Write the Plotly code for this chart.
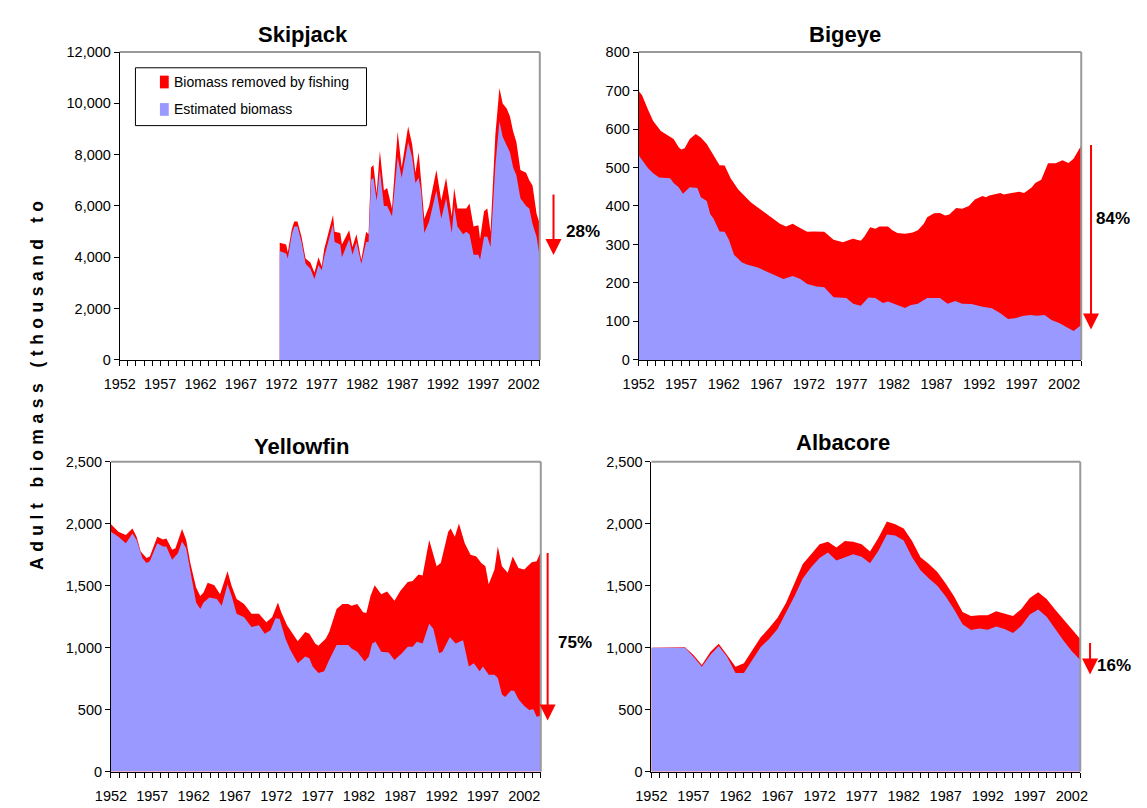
import plotly.graph_objects as go

# ---------------- DATA ----------------
# Skipjack (quarterly-ish readings), thousand tonnes
skj_years = [1971.8, 1972.6, 1972.8, 1973.3, 1973.6, 1974.0, 1974.5, 1975.0, 1975.6, 1976.1,
             1976.6, 1977.0, 1977.3, 1977.8, 1978.4, 1978.6, 1979.3, 1979.5, 1980.4, 1980.8,
             1981.3, 1981.9, 1982.5, 1982.8, 1983.1, 1983.4, 1983.8, 1984.2, 1984.7, 1985.1,
             1985.7, 1986.4, 1986.9, 1987.7, 1988.2, 1988.6, 1989.0, 1989.3, 1989.7, 1990.3,
             1991.2, 1991.8, 1992.4, 1993.1, 1993.4, 1993.8, 1994.5, 1994.9, 1995.3, 1995.8,
             1996.4, 1996.6, 1997.1, 1997.5, 1997.9, 1998.5, 1999.0, 1999.4, 1999.9, 2000.3,
             2000.7, 2001.1, 2001.6, 2002.3, 2002.7, 2003.1, 2003.6, 2004.0]
skj_unfished = [4570, 4500, 4200, 5100, 5400, 5400, 4800, 3950, 3800, 3400,
                4000, 3650, 4300, 4900, 5650, 5000, 4950, 4500, 5050, 4400,
                4900, 3900, 5000, 4900, 7500, 7600, 6500, 8150, 6600, 6700,
                5900, 8900, 7500, 9100, 8400, 7300, 8100, 7000, 5500, 6000,
                7400, 6200, 7100, 5600, 6700, 5900, 5900, 5900, 6100, 5200,
                5250, 4700, 5800, 5900, 5000, 8800, 10600, 10000, 9800, 9500,
                8900, 8500, 7400, 7300, 7000, 6800, 5700, 5300]
skj_estimated = [4250, 4150, 3950, 4900, 5200, 5200, 4600, 3750, 3550, 3150,
                 3700, 3500, 4000, 4600, 5300, 4600, 4500, 4000, 4700, 4100,
                 4600, 3750, 4600, 4600, 7000, 7100, 6200, 7400, 6000, 6000,
                 5600, 7900, 7100, 8500, 7900, 6900, 7100, 6600, 4950, 5400,
                 6600, 5500, 6300, 4950, 6000, 5200, 4900, 5000, 4900, 4100,
                 4100, 3900, 4800, 4800, 4400, 7600, 9300, 8700, 8400, 8100,
                 7500, 7200, 6300, 6000, 5900, 5300, 4800, 4000]

# Bigeye
bet_years_unfished = [1952.0, 1952.4, 1953.1, 1953.7, 1954.6, 1955.2, 1956.1, 1956.7, 1957.0, 1957.4,
                      1958.0, 1958.7, 1959.3, 1960.0, 1960.8, 1961.5, 1962.1, 1962.8, 1963.7, 1964.3,
                      1965.2, 1966.0, 1966.9, 1967.8, 1968.6, 1969.3, 1970.1, 1970.8, 1971.8, 1972.5,
                      1973.8, 1974.9, 1976.0, 1976.8, 1977.2, 1978.1, 1978.5, 1979.2, 1979.8, 1980.3,
                      1981.3, 1981.8, 1982.4, 1983.3, 1984.2, 1984.8, 1985.5, 1985.9, 1986.7, 1987.4,
                      1988.0, 1988.5, 1989.3, 1990.0, 1990.8, 1991.5, 1992.4, 1992.8, 1993.2, 1994.5,
                      1994.9, 1995.8, 1996.7, 1997.3, 1998.2, 1998.6, 1999.3, 2000.1, 2001.0, 2001.8,
                      2002.5, 2003.1, 2004.0]
bet_unfished = [699, 688, 650, 621, 595, 587, 574, 553, 547, 550,
                574, 587, 578, 561, 532, 506, 505, 472, 443, 430,
                409, 396, 381, 367, 354, 347, 354, 345, 333, 334,
                333, 312, 306, 312, 315, 310, 320, 345, 341, 347,
                347, 337, 330, 328, 331, 337, 354, 371, 381, 382,
                375, 378, 395, 393, 400, 417, 426, 423, 427, 434,
                430, 434, 437, 434, 449, 460, 468, 511, 511, 519,
                512, 523, 557]
bet_years_estimated = [1952.0, 1952.4, 1953.1, 1953.7, 1954.4, 1955.7, 1956.1, 1956.7, 1957.2, 1958.0,
                       1958.9, 1959.3, 1960.0, 1960.4, 1960.8, 1961.5, 1962.1, 1962.6, 1963.2, 1964.1,
                       1964.7, 1966.0, 1967.3, 1968.1, 1969.0, 1970.1, 1971.0, 1971.8, 1972.9, 1973.8,
                       1974.9, 1976.4, 1977.2, 1978.1, 1979.0, 1979.8, 1980.7, 1981.3, 1982.0, 1983.3,
                       1983.9, 1984.8, 1985.9, 1987.4, 1988.3, 1989.2, 1990.0, 1991.1, 1992.4, 1993.5,
                       1994.5, 1995.4, 1996.2, 1997.1, 1998.0, 1998.8, 1999.7, 2000.5, 2001.4, 2002.2,
                       2003.1, 2004.0]
bet_estimated = [532, 519, 498, 485, 474, 472, 460, 449, 432, 449,
                 447, 423, 413, 379, 367, 334, 333, 312, 273, 254,
                 248, 240, 227, 218, 210, 218, 210, 197, 191, 189,
                 163, 161, 146, 141, 162, 161, 148, 152, 146, 135,
                 142, 146, 161, 161, 146, 153, 146, 145, 138, 134,
                 121, 106, 108, 114, 117, 115, 117, 104, 96, 87,
                 75, 91]

# Yellowfin
yft_years_unfished = [1952.0, 1952.9, 1953.8, 1954.6, 1955.1, 1955.6, 1956.3, 1956.7, 1957.6, 1958.3,
                      1958.7, 1959.4, 1959.8, 1960.6, 1961.1, 1961.6, 1962.3, 1962.8, 1963.2, 1963.7,
                      1964.5, 1965.2, 1966.1, 1966.6, 1967.2, 1968.1, 1969.0, 1969.9, 1970.8, 1971.5,
                      1972.2, 1972.6, 1973.3, 1974.0, 1974.6, 1975.5, 1976.0, 1976.7, 1977.1, 1978.0,
                      1978.4, 1979.3, 1980.0, 1980.7, 1981.1, 1981.8, 1982.5, 1982.9, 1983.4, 1983.9,
                      1984.7, 1985.4, 1986.3, 1987.0, 1987.9, 1988.5, 1989.2, 1989.7, 1990.5, 1991.4,
                      1991.9, 1992.8, 1993.1, 1993.6, 1994.1, 1994.8, 1995.5, 1996.2, 1996.8, 1997.3,
                      1997.7, 1998.4, 1998.8, 1999.3, 2000.0, 2000.6, 2001.3, 2002.0, 2002.9, 2003.5,
                      2004.0]
yft_unfished = [1996, 1935, 1909, 1962, 1896, 1776, 1723, 1736, 1896, 1874,
                1882, 1790, 1803, 1957, 1869, 1683, 1485, 1418, 1445, 1524,
                1503, 1432, 1617, 1498, 1392, 1352, 1273, 1273, 1206, 1246,
                1365, 1286, 1180, 1113, 1052, 1127, 1113, 1034, 1015, 1074,
                1127, 1312, 1352, 1352, 1339, 1352, 1286, 1280, 1418, 1503,
                1432, 1453, 1379, 1458, 1530, 1538, 1591, 1583, 1869, 1657,
                1683, 1935, 1962, 1896, 2002, 1843, 1750, 1736, 1683, 1657,
                1511, 1630, 1816, 1657, 1604, 1736, 1644, 1630, 1689, 1697,
                1776]
yft_years_estimated = [1952.0, 1952.9, 1953.8, 1954.6, 1955.1, 1955.8, 1956.3, 1956.7, 1957.6, 1958.3,
                       1958.7, 1959.4, 1960.1, 1960.6, 1961.1, 1961.6, 1962.3, 1962.8, 1963.2, 1963.9,
                       1964.8, 1965.4, 1966.1, 1966.6, 1967.2, 1968.1, 1969.0, 1969.9, 1970.6, 1971.3,
                       1971.9, 1972.4, 1973.1, 1973.7, 1974.6, 1975.5, 1976.0, 1976.4, 1977.1, 1977.8,
                       1978.4, 1979.3, 1980.7, 1981.1, 1981.8, 1982.7, 1983.2, 1983.6, 1984.0, 1984.7,
                       1985.6, 1986.3, 1987.2, 1987.9, 1988.5, 1989.0, 1989.7, 1990.5, 1991.0, 1991.7,
                       1992.1, 1993.0, 1993.7, 1994.6, 1995.3, 1995.9, 1996.6, 1997.0, 1997.7, 1998.4,
                       1998.8, 1999.3, 1999.7, 2000.4, 2000.8, 2001.3, 2002.0, 2002.6, 2003.1, 2003.5,
                       2004.0]
yft_estimated = [1935, 1896, 1843, 1922, 1869, 1723, 1683, 1697, 1843, 1816,
                 1816, 1710, 1763, 1856, 1803, 1617, 1365, 1312, 1365, 1405,
                 1392, 1339, 1511, 1418, 1273, 1246, 1166, 1180, 1113, 1140,
                 1238, 1233, 1074, 981, 875, 928, 915, 848, 795, 809,
                 901, 1021, 1021, 994, 968, 888, 928, 1034, 1047, 968,
                 962, 901, 954, 1007, 1007, 1047, 1034, 1193, 1153, 954,
                 968, 1087, 1034, 1060, 848, 875, 809, 848, 782, 782,
                 756, 623, 602, 655, 650, 583, 530, 496, 504, 443,
                 451]

# Albacore (annual)
alb_years = list(range(1952, 2004))
alb_unfished = [1000, 1000, 1000, 1000, 1003, 940, 860, 966, 1032, 940,
                847, 874, 979, 1084, 1158, 1242, 1361, 1518, 1676, 1755,
                1834, 1855, 1808, 1861, 1855, 1834, 1776, 1887, 2018, 1997,
                1961, 1861, 1729, 1676, 1611, 1518, 1413, 1287, 1255, 1261,
                1261, 1295, 1276, 1255, 1313, 1400, 1447, 1392, 1308, 1229,
                1150, 1071]
alb_estimated = [1000, 1000, 1000, 1000, 1000, 926, 847, 940, 1013, 926,
                 795, 795, 900, 1005, 1071, 1150, 1282, 1413, 1558, 1650,
                 1724, 1768, 1703, 1729, 1755, 1734, 1682, 1782, 1913, 1905,
                 1866, 1729, 1624, 1558, 1500, 1413, 1308, 1189, 1142, 1155,
                 1145, 1171, 1150, 1118, 1176, 1268, 1308, 1250, 1150, 1058,
                 971, 900]

titles = ["Skipjack", "Bigeye", "Yellowfin", "Albacore"]
declines = ["28%", "84%", "75%", "16%"]
legend_labels = ["Biomass removed by fishing", "Estimated biomass"]
y_title = "Adult biomass (thousand to"

# ---------------- STYLE ----------------
W, H = 1147, 808
RED = "#FF0000"
BLUE = "#9999FF"
FONT = "Liberation Sans, Arial, sans-serif"
TICK = 14.5


def px(x):
    return x / W


def py(y):
    return 1 - y / H


fig = go.Figure()

panels = [
    ("x", "y", skj_years, skj_unfished, skj_years, skj_estimated),
    ("x2", "y2", bet_years_unfished, bet_unfished, bet_years_estimated, bet_estimated),
    ("x3", "y3", yft_years_unfished, yft_unfished, yft_years_estimated, yft_estimated),
    ("x4", "y4", alb_years, alb_unfished, alb_years, alb_estimated),
]
for xa, ya, xu, yu, xe, ye in panels:
    fig.add_trace(go.Scatter(x=xu, y=yu, xaxis=xa, yaxis=ya, mode="lines",
                             line=dict(width=0, color=RED), fill="tozeroy",
                             fillcolor=RED, showlegend=False, hoverinfo="skip",
                             name=legend_labels[0]))
    fig.add_trace(go.Scatter(x=xe, y=ye, xaxis=xa, yaxis=ya, mode="lines",
                             line=dict(width=0, color=BLUE), fill="tozeroy",
                             fillcolor=BLUE, showlegend=False, hoverinfo="skip",
                             name=legend_labels[1]))

# axis geometry (pixels): left, right, top, bottom
geom = [
    (106, 535, 45, 359),
    (636, 1088, 45, 359),
    (97, 536, 463, 779),
    (649, 1087, 463, 779),
]
xranges = [[1952, 2004], [1952, 2004], [1952, 2004], [1952, 2003]]
yranges = [[0, 12000], [0, 800], [0, 2500], [0, 2500]]
ydticks = [2000, 100, 500, 500]

layout = dict(
    width=W, height=H, margin=dict(l=0, r=0, t=0, b=0),
    paper_bgcolor="white", plot_bgcolor="white",
    font=dict(family=FONT, size=13, color="black"),
    showlegend=False,
)
for i, (l, r, t, b) in enumerate(geom):
    sfx = "" if i == 0 else str(i + 1)
    layout["xaxis" + sfx] = dict(
        domain=[px(l), px(r)], anchor="y" + sfx, range=xranges[i],
        showline=True, linecolor="black", linewidth=1,
        ticks="outside", ticklen=5, tickcolor="black", tickwidth=1,
        tickmode="linear", tick0=1952, dtick=5,
        minor=dict(ticks="outside", ticklen=5, tickcolor="black", dtick=1, tick0=1952),
        showgrid=False, zeroline=False, ticklabelstandoff=6,
        tickfont=dict(size=TICK, color="black", family=FONT), fixedrange=True,
    )
    layout["yaxis" + sfx] = dict(
        domain=[py(b), py(t)], anchor="x" + sfx, range=yranges[i],
        showline=True, linecolor="black", linewidth=1,
        ticks="outside", ticklen=5, tickcolor="black",
        tickmode="linear", tick0=0, dtick=ydticks[i], tickformat=",d",
        showgrid=False, zeroline=False,
        tickfont=dict(size=TICK, color="black", family=FONT), fixedrange=True,
    )
fig.update_layout(**layout)

shapes = []
for i in range(4):
    sfx = "" if i == 0 else str(i + 1)
    xr, yr = "x" + sfx + " domain", "y" + sfx + " domain"
    shapes.append(dict(type="line", xref=xr, yref=yr, x0=0, x1=1, y0=1, y1=1,
                       line=dict(color="#999999", width=2), layer="above"))
    shapes.append(dict(type="line", xref=xr, yref=yr, x0=1, x1=1, y0=0, y1=1,
                       line=dict(color="#999999", width=2), layer="above"))

# legend box (skipjack panel)
shapes.append(dict(type="rect", xref="paper", yref="paper", x0=px(122), x1=px(358),
                   y0=py(120), y1=py(61), line=dict(color="black", width=1),
                   fillcolor="white", layer="above"))
shapes.append(dict(type="rect", xref="paper", yref="paper", x0=px(147), x1=px(156),
                   y0=py(82), y1=py(69), line=dict(width=0), fillcolor=RED, layer="above"))
shapes.append(dict(type="rect", xref="paper", yref="paper", x0=px(147), x1=px(156),
                   y0=py(110), y1=py(97), line=dict(width=0), fillcolor=BLUE, layer="above"))

annotations = []
title_pos = [(293, 27), (847, 27), (292, 447), (845, 443)]
for t, (x, y) in zip(titles, title_pos):
    annotations.append(dict(text="<b>%s</b>" % t, x=px(x), y=py(y), xref="paper", yref="paper",
                            showarrow=False, xanchor="center", yanchor="middle",
                            font=dict(size=22, family=FONT, color="black")))

pct_pos = [(579, 228), (1120, 215), (571, 647), (1121, 671)]
for t, (x, y) in zip(declines, pct_pos):
    annotations.append(dict(text="<b>%s</b>" % t, x=px(x), y=py(y), xref="paper", yref="paper",
                            showarrow=False, xanchor="center", yanchor="middle",
                            font=dict(size=17, family=FONT, color="black")))

# arrows: (x, top, tip)
arrows = [(549, 190, 252), (1098, 142, 328), (543, 558, 727), (1097, 647, 680)]
for x, top, tip in arrows:
    annotations.append(dict(text="", x=px(x), y=py(tip), xref="paper", yref="paper",
                            ax=0, ay=-(tip - top), showarrow=True, arrowhead=2,
                            arrowsize=1.6, arrowwidth=2, arrowcolor=RED, standoff=0))

annotations.append(dict(text=legend_labels[0], x=px(159), y=py(75.5), xref="paper", yref="paper",
                        showarrow=False, xanchor="left", yanchor="middle",
                        font=dict(size=14, family=FONT, color="black")))
annotations.append(dict(text=legend_labels[1], x=px(159), y=py(103), xref="paper", yref="paper",
                        showarrow=False, xanchor="left", yanchor="middle",
                        font=dict(size=14, family=FONT, color="black")))

annotations.append(dict(text='<b><span style="letter-spacing:5.5px">%s</span></b>' % y_title,
                        x=px(22), y=py(383), xref="paper", yref="paper",
                        showarrow=False, textangle=-90, xanchor="center", yanchor="middle",
                        font=dict(size=17.5, family=FONT, color="black")))

fig.update_layout(shapes=shapes, annotations=annotations)

fig.write_html("out.html", post_script="document.body.style.margin='0';",
               config={"displayModeBar": False})
